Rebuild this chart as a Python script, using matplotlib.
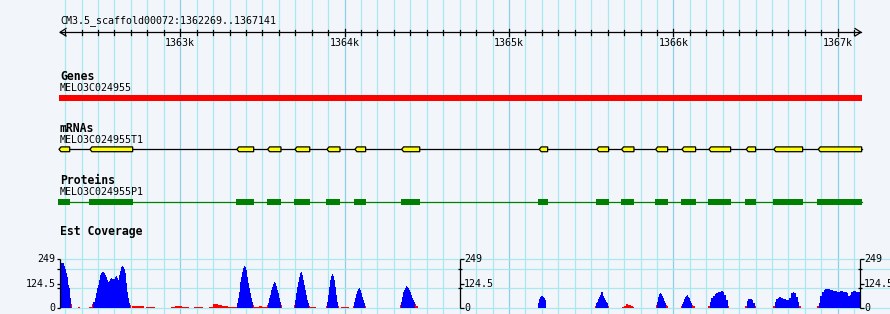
import matplotlib
matplotlib.use("Agg")
import matplotlib.pyplot as plt
from matplotlib.patches import Polygon, Rectangle

# region shown in the browser
SCAFFOLD = "CM3.5_scaffold00072"
VIEW_START = 1362269
VIEW_END = 1367141

GENE_NAME = "MELO3C024955"
MRNA_NAME = "MELO3C024955T1"
PROTEIN_NAME = "MELO3C024955P1"
GENE_SPAN = (1362263, 1367146)

# exon (start, end) in bp
EXONS = [
    (1362263, 1362328), (1362451, 1362711), (1363345, 1363447),
    (1363532, 1363613), (1363698, 1363788), (1363893, 1363972),
    (1364063, 1364128), (1364347, 1364457), (1365184, 1365235),
    (1365535, 1365606), (1365685, 1365760), (1365892, 1365965),
    (1366052, 1366135), (1366216, 1366348), (1366443, 1366500),
    (1366611, 1366786), (1366881, 1367145),
]

# est coverage: (start bp, bin size bp, values)
COV_MAX = 249
COV_TICKS = [0, 124.5, 249]
COV_AXES_AT = [1362269, 1364702, 1367135]
PIVOT = 21
COVERAGE = [
    (1362269, 6, [228, 228, 228, 228, 215, 199, 179, 158, 118, 102, 51, 18]),
    (1362378, 6, [5, 5]),
    (1362445, 6, [5, 5, 5, 19, 29, 29, 50, 75, 101, 118, 143, 169, 177, 182, 185,
                  177, 169, 160, 143, 134, 138, 148, 152, 148, 148, 148, 160, 165,
                  155, 143, 169, 191, 203, 211, 215, 211, 199, 177, 126, 83, 50, 24, 15]),
    (1362707, 6, [10, 10, 12, 12, 12, 12, 12, 10, 10, 8, 8, 8]),
    (1362792, 6, [5, 5, 5, 5, 5, 5, 5, 5, 5]),
    (1362944, 6, [5, 5, 5, 5, 10, 10, 10, 10, 10, 10, 10, 5, 5, 5, 5, 5, 5, 5]),
    (1363084, 6, [5, 5, 5, 5, 5, 5, 5, 5, 5]),
    (1363175, 6, [7, 7, 7, 7, 19, 19, 19, 19, 19, 15, 15, 15, 15, 10, 10, 10, 10,
                  10, 10, 7, 7, 7, 7, 7, 7, 7, 7, 7]),
    (1363345, 6, [24, 50, 83, 134, 160, 185, 203, 216, 211, 194, 160, 126, 101, 75,
                  50, 32, 15]),
    (1363449, 6, [7, 7, 7, 7, 7, 10, 10, 10, 7, 7, 7, 7, 7]),
    (1363528, 6, [15, 24, 50, 66, 92, 109, 121, 131, 126, 114, 92, 75, 53, 32, 15]),
    (1363692, 6, [15, 41, 75, 109, 134, 160, 177, 182, 169, 143, 118, 92, 66, 41,
                  24, 10, 7, 7, 7, 7, 7, 7]),
    (1363887, 6, [9, 32, 66, 109, 143, 165, 172, 165, 143, 109, 66, 32, 12]),
    (1363978, 6, [7, 7, 7, 7, 7, 7, 7, 7]),
    (1364051, 6, [10, 32, 53, 70, 87, 97, 101, 90, 75, 58, 41, 24, 10]),
    (1364337, 6, [15, 32, 58, 80, 92, 104, 112, 109, 101, 92, 80, 66, 53, 41, 29,
                  19, 10, 10]),
    (1365176, 6, [25, 45, 55, 61, 61, 58, 50, 40]),
    (1365523, 6, [10, 24, 32, 46, 58, 66, 80, 80, 63, 53, 41, 32, 24, 12]),
    (1365687, 6, [7, 7, 12, 12, 19, 19, 14, 14, 14, 10, 10, 5]),
    (1365894, 6, [15, 32, 58, 70, 75, 72, 63, 50, 36, 24, 15, 8]),
    (1366046, 6, [10, 22, 32, 46, 58, 63, 66, 58, 50, 36, 24, 15, 10, 10]),
    (1366210, 10, [10, 32, 50, 61, 72, 75, 83, 83, 88, 83, 66, 41, 10]),
    (1366435, 10, [10, 36, 44, 46, 41, 24, 10]),
    (1366605, 10, [10, 32, 44, 53, 55, 50, 44, 44, 41, 41, 50, 75, 83, 78, 58, 32, 10]),
    (1366873, 10, [10, 24, 61, 83, 92, 97, 96, 96, 92, 92, 88, 88, 83, 83, 88, 88,
                   83, 83, 78, 61, 66, 83, 88, 88, 83, 83]),
]

W, H = 890, 314
LEFT, RIGHT = 60, 861
BG = "#f2f6fb"
MINOR_GRID = "#a8e8ee"
MAJOR_GRID = "#8ccfe6"
LW = 0.9
MONO = "DejaVu Sans Mono"
FS = 7.2
FS_BOLD = 8.3

ppb = (RIGHT - LEFT) / (VIEW_END - VIEW_START)   # pixels per bp
x0 = VIEW_START - LEFT / ppb
x1 = x0 + W / ppb

fig = plt.figure(figsize=(W / 100, H / 100), dpi=100)
fig.patch.set_facecolor(BG)
ax = fig.add_axes([0, 0, 1, 1])
ax.set_xlim(x0, x1)
ax.set_ylim(H, 0)
ax.axis("off")

# vertical grid every 100 bp
for p in range(1362300, VIEW_END, 100):
    ax.axvline(p, color=MAJOR_GRID if p % 1000 == 0 else MINOR_GRID, lw=LW, zorder=0)

# ruler
ax.text(VIEW_START, 21, f"{SCAFFOLD}:{VIEW_START}..{VIEW_END}", family=MONO,
        fontsize=FS, ha="left", va="center")
ry = 32.3
ax.plot([VIEW_START, VIEW_END], [ry, ry], color="k", lw=LW)
for p in range(1362300, VIEW_END, 100):
    if p % 1000 == 0:
        ax.plot([p, p], [28.5, 36], color="k", lw=LW)
        ax.text(p, 42.5, f"{p // 1000}k", family=MONO, fontsize=FS,
                ha="center", va="center")
    else:
        ax.plot([p, p], [30, 34.5], color="k", lw=LW)
a = 6 / ppb
ax.plot([VIEW_START + a, VIEW_START, VIEW_START + a], [28.5, ry, 36], color="k", lw=LW)
ax.plot([VIEW_END - a, VIEW_END, VIEW_END - a], [28.5, ry, 36], color="k", lw=LW)

# genes track
ax.text(VIEW_START, 76, "Genes", family=MONO, fontsize=FS_BOLD, weight="bold",
        ha="left", va="center")
ax.text(VIEW_START, 88, GENE_NAME, family=MONO, fontsize=FS, ha="left", va="center")
ax.add_patch(Rectangle((GENE_SPAN[0], 95), GENE_SPAN[1] - GENE_SPAN[0], 6,
                       facecolor="#ff0000", edgecolor="none", zorder=3))

# mRNA track
ax.text(VIEW_START, 129, "mRNAs", family=MONO, fontsize=FS_BOLD, weight="bold",
        ha="left", va="center")
ax.text(VIEW_START, 140.3, MRNA_NAME, family=MONO, fontsize=FS, ha="left", va="center")
my, mh = 149.3, 2.4
ax.plot([EXONS[0][0], EXONS[-1][1]], [my, my], color="k", lw=LW, zorder=3)
tp = 2 / ppb
for s, e in EXONS:
    ax.add_patch(Polygon([(s, my), (s + tp, my - mh), (e, my - mh), (e, my + mh),
                          (s + tp, my + mh)], closed=True, facecolor="#ffff00",
                         edgecolor="k", lw=LW, zorder=4))

# protein track
ax.text(VIEW_START, 180, "Proteins", family=MONO, fontsize=FS_BOLD, weight="bold",
        ha="left", va="center")
ax.text(VIEW_START, 192, PROTEIN_NAME, family=MONO, fontsize=FS, ha="left", va="center")
py = 201.5
ax.plot([EXONS[0][0], EXONS[-1][1]], [py, py], color="#008000", lw=LW, zorder=3)
for s, e in EXONS:
    ax.add_patch(Rectangle((s - 1 / ppb, py - 3), e - s + 1 / ppb, 6,
                           facecolor="#008000", edgecolor="none", zorder=4))

# coverage track
ax.text(VIEW_START, 231.7, "Est Coverage", family=MONO, fontsize=FS_BOLD,
        weight="bold", ha="left", va="center")

top_px, base_px = 259.3, 308
cov = fig.add_axes([0, (H - base_px) / H, 1, (base_px - top_px) / H])
cov.set_xlim(x0, x1)
cov.set_ylim(0, COV_MAX)
cov.axis("off")

cov.hlines([249, 198, 101, 0], VIEW_START, x1, color=MINOR_GRID, lw=LW,
           zorder=0, clip_on=False)

for start, step, vals in COVERAGE:
    xs = [start + i * step for i in range(len(vals))]
    cols = ["#0000ff" if v >= PIVOT else "#ff0000" for v in vals]
    cov.bar(xs, vals, width=step, align="edge", color=cols, linewidth=0,
            antialiased=False, zorder=2)

tick = 3.5 / ppb
minor = [198, 101]
for i, xa in enumerate(COV_AXES_AT):
    cov.vlines(xa, 0, COV_MAX, color="k", lw=LW, clip_on=False, zorder=5)
    if i == 0:
        for t in COV_TICKS + minor:
            cov.hlines(t, xa - tick, xa, color="k", lw=LW, clip_on=False, zorder=5)
        for t in COV_TICKS:
            cov.text(xa - 4.5 / ppb, t, f"{t:g}", family=MONO, fontsize=FS,
                     ha="right", va="center", clip_on=False)
    else:
        for t in COV_TICKS:
            cov.hlines(t, xa, xa + tick, color="k", lw=LW, clip_on=False, zorder=5)
        for t in minor:
            cov.hlines(t, xa - tick / 2, xa + tick / 2, color="k", lw=LW,
                       clip_on=False, zorder=5)
        for t in COV_TICKS:
            cov.text(xa + 4 / ppb, t, f"{t:g}", family=MONO, fontsize=FS,
                     ha="left", va="center", clip_on=False)

fig.savefig("out.png", dpi=100, facecolor=BG)
